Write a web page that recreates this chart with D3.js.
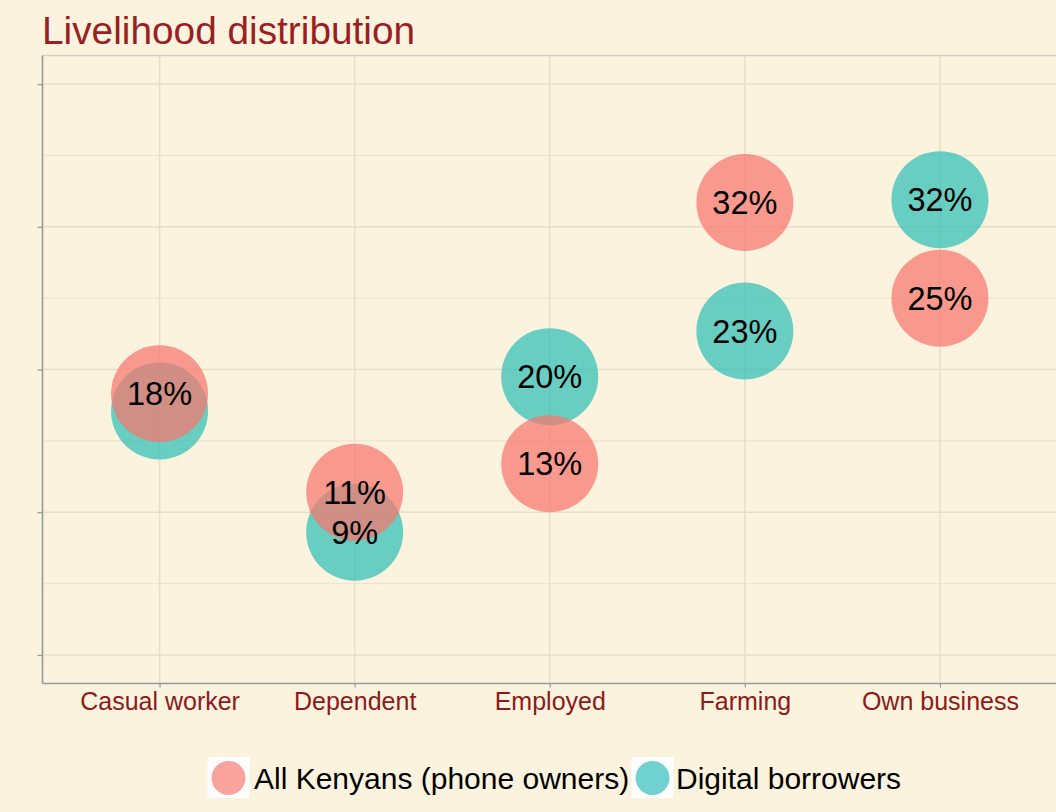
<!DOCTYPE html>
<html>
<head>
<meta charset="utf-8">
<script src="https://cdn.jsdelivr.net/npm/d3@7"></script>
<style>
  html, body { margin: 0; padding: 0; background: #FBF3DE; }
  svg { display: block; }
  text { font-family: "Liberation Sans", Arial, sans-serif; }
</style>
</head>
<body>
<svg id="chart" width="1056" height="812"></svg>
<script>
// ---- data ----
const categories = ["Casual worker", "Dependent", "Employed", "Farming", "Own business"];
const seriesNames = ["All Kenyans (phone owners)", "Digital borrowers"];
const allKenyans = [18.3, 11.4, 13.4, 31.7, 25.0];
const digitalBorrowers = [17.1, 8.6, 19.5, 22.7, 31.9];
const allKenyansLabels = ["18%", "11%", "13%", "32%", "25%"];
const digitalBorrowersLabels = ["", "9%", "20%", "23%", "32%"];
const yMajorTicks = [0, 10, 20, 30, 40];
const yMinorTicks = [5, 15, 25, 35];
const colors = ["#F8766D", "#2BBDB7"];

(function () {
const svg = d3.select("#chart");
const W = 1056, H = 812;
const pLeft = 42.5, pRight = 1057, pTop = 55.5, pBottom = 683.5;

svg.append("rect").attr("width", W).attr("height", H).attr("fill", "#FBF3DE");

const x = d3.scalePoint().domain(categories).range([pLeft, pRight]).padding(0.6);
const y = d3.scaleLinear().domain([-2, 42]).range([pBottom, pTop]);

const grid = svg.append("g");
grid.selectAll(".minor").data(yMinorTicks).join("line")
  .attr("x1", pLeft).attr("x2", pRight)
  .attr("y1", d => y(d)).attr("y2", d => y(d))
  .attr("stroke", "#EEE5CE").attr("stroke-width", 1.2);
grid.selectAll(".major").data(yMajorTicks).join("line")
  .attr("x1", pLeft).attr("x2", pRight)
  .attr("y1", d => y(d)).attr("y2", d => y(d))
  .attr("stroke", "#E8DFC8").attr("stroke-width", 1.5);
grid.selectAll(".vgrid").data(categories).join("line")
  .attr("x1", d => x(d)).attr("x2", d => x(d))
  .attr("y1", pTop).attr("y2", pBottom)
  .attr("stroke", "#E8DFC8").attr("stroke-width", 1.5);
svg.append("line").attr("x1", pLeft).attr("x2", pRight).attr("y1", pTop).attr("y2", pTop)
  .attr("stroke", "#D2D0C2").attr("stroke-width", 1.5);

const yAxis = d3.axisLeft(y).tickValues(yMajorTicks).tickSize(5).tickFormat("");
const gy = svg.append("g").attr("transform", `translate(${pLeft},0)`).call(yAxis);
gy.select(".domain").remove();
gy.selectAll(".tick line").attr("stroke", "#8E9C9A").attr("stroke-width", 1.2);
svg.append("line").attr("x1", pLeft).attr("x2", pLeft).attr("y1", pTop).attr("y2", pBottom)
  .attr("stroke", "#8E9C9A").attr("stroke-width", 1.6);

const xAxis = d3.axisBottom(x).tickSize(4);
const gx = svg.append("g").attr("transform", `translate(0,${pBottom})`).call(xAxis);
gx.select(".domain").remove();
gx.selectAll(".tick line").attr("stroke", "#8E9C9A").attr("stroke-width", 1.2);
gx.selectAll(".tick text").attr("fill", "#8B1A1A").attr("font-size", 25)
  .attr("font-family", "Liberation Sans, Arial, sans-serif")
  .attr("y", 26.5).attr("dy", 0);
svg.append("line").attr("x1", pLeft).attr("x2", pRight).attr("y1", pBottom).attr("y2", pBottom)
  .attr("stroke", "#8E9C9A").attr("stroke-width", 1.6);

const r = 48.5;
const series = [
  { vals: digitalBorrowers, labels: digitalBorrowersLabels, color: colors[1], op: 0.7 },
  { vals: allKenyans, labels: allKenyansLabels, color: colors[0], op: 0.72 }
];
series.forEach(s => {
  svg.append("g").selectAll("circle").data(categories).join("circle")
    .attr("cx", d => x(d)).attr("cy", (d, i) => y(s.vals[i]))
    .attr("r", r).attr("fill", s.color).attr("fill-opacity", s.op);
});
series.forEach(s => {
  svg.append("g").selectAll("text").data(categories).join("text")
    .attr("x", d => x(d)).attr("y", (d, i) => y(s.vals[i]))
    .attr("text-anchor", "middle").attr("dy", "0.36em")
    .attr("font-size", 32.5).attr("fill", "#000")
    .text((d, i) => s.labels[i]);
});

svg.append("text").attr("x", 42).attr("y", 44).attr("fill", "#9A1F24")
  .attr("font-size", 38.8).text("Livelihood distribution");

const legendItems = [
  { name: seriesNames[0], color: colors[0], op: 0.68, bx: 207.5, tx: 254 },
  { name: seriesNames[1], color: colors[1], op: 0.68, bx: 631.5, tx: 676 }
];
const lg = svg.append("g");
legendItems.forEach(it => {
  lg.append("rect").attr("x", it.bx).attr("y", 757).attr("width", 42).attr("height", 41)
    .attr("fill", "#FFFFFF");
  lg.append("circle").attr("cx", it.bx + 21).attr("cy", 778).attr("r", 17)
    .attr("fill", it.color).attr("fill-opacity", it.op);
  lg.append("text").attr("x", it.tx).attr("y", 789).attr("font-size", 30)
    .attr("fill", "#000").text(it.name);
});
})();
</script>
</body>
</html>
